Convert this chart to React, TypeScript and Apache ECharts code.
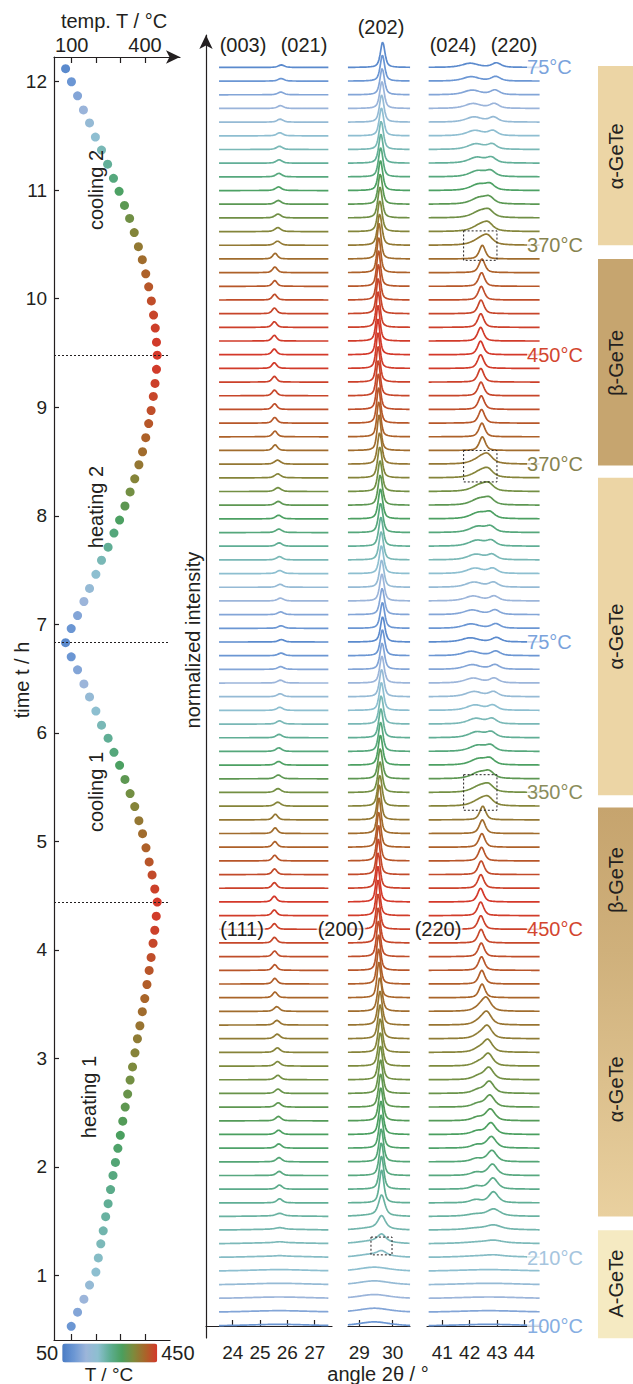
import React, { useEffect, useRef } from 'react';
import * as echarts from 'echarts';

const FONT = '"Liberation Sans", Arial, Helvetica, sans-serif';
const INK = '#231f20';

// ---- scans, chronological (k = 0 is the bottom trace) ----
const SCAN_TIME_H = [
  0.53, 0.66, 0.78, 0.91, 1.03, 1.16, 1.29, 1.41, 1.54, 1.66,
  1.79, 1.92, 2.04, 2.17, 2.29, 2.42, 2.55, 2.67, 2.8, 2.92,
  3.05, 3.18, 3.3, 3.43, 3.55, 3.68, 3.81, 3.93, 4.06, 4.18,
  4.31, 4.44, 4.56, 4.69, 4.81, 4.94, 5.07, 5.19, 5.32, 5.44,
  5.57, 5.7, 5.82, 5.95, 6.07, 6.2, 6.33, 6.45, 6.58, 6.7,
  6.83, 6.96, 7.08, 7.21, 7.33, 7.46, 7.59, 7.71, 7.84, 7.96,
  8.09, 8.22, 8.34, 8.47, 8.59, 8.72, 8.85, 8.97, 9.1, 9.22,
  9.35, 9.48, 9.6, 9.73, 9.85, 9.98, 10.11, 10.23, 10.36, 10.48,
  10.61, 10.74, 10.86, 10.99, 11.11, 11.24, 11.37, 11.49, 11.62, 11.74,
  11.87, 12.0, 12.12,
];
const SCAN_TEMP_C = [
  // heating 1 (k 0-31)
  98, 124, 150, 173, 199, 209, 219, 229, 239, 249, 259, 269, 279, 289, 299, 309,
  319, 329, 339, 349, 359, 369, 379, 389, 399, 408, 417, 425, 433, 440, 446, 450,
  // cooling 1 (k 32-50)
  440, 429, 417, 404, 390, 375, 358, 339, 318, 296, 273, 249, 222, 199, 173, 150,
  124, 98, 75,
  // heating 2 (k 51-71)
  98, 124, 150, 173, 199, 222, 249, 273, 296, 318, 339, 358, 375, 390, 403,
  415, 425, 434, 441, 447, 450,
  // cooling 2 (k 72-92)
  447, 442, 435, 426, 415, 403, 389, 373, 356, 337, 316, 294, 271, 247, 222,
  197, 173, 148, 124, 99, 75,
];
// phase of each scan: A amorphous, c crystallising, h alpha (first heating), b beta, a alpha (cycled)
const PHASE_RUNS: [string, number][] = [['A', 5], ['c', 4], ['h', 15], ['b', 14], ['a', 26], ['b', 15], ['a', 14]];
const CRYST_LEVEL = [0.12, 0.22, 0.38, 0.62];
const TURN_TIMES_H = [4.44, 6.83, 9.48];

// ---- peaks: [centre lowT, centre highT, height lowT, height highT, half width] ----
type PeakDef = [number, number, number, number, number];
const ALPHA_T = [75, 375];
const ALPHA_PEAKS: Record<string, PeakDef[]> = {
  s1: [[25.78, 25.64, 0.18, 0.3, 0.13]],
  s2: [[29.7, 29.61, 1.85, 2.3, 0.08]],
  s3: [[42.02, 42.45, 0.3, 0.52, 0.36], [42.98, 42.66, 0.32, 0.4, 0.2]],
};
const BETA_T = [375, 450];
const BETA_PEAKS: Record<string, PeakDef[]> = {
  s1: [[25.56, 25.52, 0.42, 0.42, 0.1]],
  s2: [[29.6, 29.56, 2.6, 2.6, 0.07]],
  s3: [[42.48, 42.4, 1.0, 1.0, 0.13]],
};
const HEAT1_T = [245, 405];
const HEAT1_PEAKS: Record<string, PeakDef[]> = {
  s1: [[25.72, 25.6, 0.3, 0.35, 0.12]],
  s2: [[29.67, 29.61, 2.4, 2.5, 0.08]],
  s3: [[42.22, 42.4, 0.22, 0.3, 0.25], [42.88, 42.58, 0.8, 0.9, 0.2]],
};
const AMORPH_PEAKS: Record<string, PeakDef[]> = {
  s1: [[25.7, 25.7, 0.12, 0.12, 1.4]],
  s2: [[29.45, 29.45, 0.3, 0.3, 0.55]],
  s3: [[42.7, 42.7, 0.12, 0.12, 1.4]],
};
const PV_ETA = 0.6;

// ---- axes ----
const TEMP_TICKS = [100, 200, 300, 400];
const TEMP_TICK_LABELS = [100, 400];
const TIME_TICKS = [1, 2, 3, 4, 5, 6, 7, 8, 9, 10, 11, 12];
const SEG1_TICKS = [24, 25, 26, 27];
const SEG2_TICKS = [29, 30];
const SEG3_TICKS = [41, 42, 43, 44];

const CMAP_COLORS = ['#4a7cc5', '#6c97d4', '#9cb5da', '#8dbfd0', '#5fae94', '#4a9f5e', '#7e8a3c', '#aa6429', '#d4382a'];

const SEGMENTS = [
  { key: 's1', from: 23.5, to: 27.5, step: 0.04, axis: 2 },
  { key: 's2', from: 28.66, to: 30.52, step: 0.015, axis: 3 },
  { key: 's3', from: 40.5, to: 44.56, step: 0.03, axis: 4 },
];

const DASH_BOXES = [
  { axis: 4, x0: 41.78, x1: 43.0, y0: 77.9, y1: 80.05 },
  { axis: 4, x0: 41.78, x1: 43.0, y0: 61.7, y1: 64.0 },
  { axis: 4, x0: 41.78, x1: 43.0, y0: 37.7, y1: 40.3 },
  { axis: 3, x0: 29.35, x1: 29.98, y0: 5.2, y1: 6.5 },
];

const TEMP_LABELS = [
  { k: 92, text: '75°C', color: '#7aa3dc' },
  { k: 79, text: '370°C', color: '#87834f' },
  { k: 71, text: '450°C', color: '#d3462f' },
  { k: 63, text: '370°C', color: '#87834f' },
  { k: 50, text: '75°C', color: '#7aa3dc' },
  { k: 39, text: '350°C', color: '#8b8d5c' },
  { k: 29, text: '450°C', color: '#d3462f' },
  { k: 5, text: '210°C', color: '#a6c5de' },
  { k: 0, text: '100°C', color: '#86aee2' },
];

const PHASE_BANDS = [
  { from: 79.0, to: 92.1, kind: 'alpha' },
  { from: 62.9, to: 78.0, kind: 'beta' },
  { from: 38.8, to: 62.0, kind: 'alpha' },
  { from: 8.0, to: 37.9, kind: 'grad' },
  { from: -0.9, to: 7.0, kind: 'amorph' },
];
const BAND_LABELS: [number, string][] = [
  [85.5, 'α-GeTe'], [70.4, 'β-GeTe'], [50.4, 'α-GeTe'], [32.6, 'β-GeTe'], [17.3, 'α-GeTe'], [3.1, 'A-GeTe'],
];
const BAND_COLORS: Record<string, string> = { alpha: '#ecd5a5', beta: '#c6a56f', amorph: '#f5eac2' };

const YMIN = -0.877;
const YMAX = 94.37;

// ---- helpers ----
const SCAN_PHASE: string[] = PHASE_RUNS.flatMap(([p, n]) => Array(n).fill(p));
const FIRST_CRYST = SCAN_PHASE.indexOf('c');

function hexToRgb(h: string) {
  const n = parseInt(h.slice(1), 16);
  return [(n >> 16) & 255, (n >> 8) & 255, n & 255];
}
function tempColor(T: number) {
  const t = Math.max(0, Math.min(1, (T - 50) / 400)) * (CMAP_COLORS.length - 1);
  const i = Math.min(Math.floor(t), CMAP_COLORS.length - 2);
  const f = t - i;
  const a = hexToRgb(CMAP_COLORS[i]);
  const b = hexToRgb(CMAP_COLORS[i + 1]);
  const c = a.map((v, j) => Math.round(v + (b[j] - v) * f));
  return `rgb(${c[0]},${c[1]},${c[2]})`;
}
function clamp01(v: number) {
  return Math.max(0, Math.min(1, v));
}
function evalSet(defs: PeakDef[], range: number[], T: number) {
  const f = clamp01((T - range[0]) / (range[1] - range[0]));
  return defs.map((d) => [d[0] + (d[1] - d[0]) * f, d[2] + (d[3] - d[2]) * f, d[4]]);
}
function peaksFor(k: number, seg: string): number[][] {
  const ph = SCAN_PHASE[k];
  const T = SCAN_TEMP_C[k];
  if (ph === 'a') return evalSet(ALPHA_PEAKS[seg], ALPHA_T, T);
  if (ph === 'b') return evalSet(BETA_PEAKS[seg], BETA_T, T);
  if (ph === 'h') return evalSet(HEAT1_PEAKS[seg], HEAT1_T, T);
  if (ph === 'A') return evalSet(AMORPH_PEAKS[seg], [0, 1], 0);
  const lv = CRYST_LEVEL[k - FIRST_CRYST];
  return [
    ...evalSet(AMORPH_PEAKS[seg], [0, 1], 0).map((p) => [p[0], p[1] * (1 - lv), p[2]]),
    ...evalSet(HEAT1_PEAKS[seg], HEAT1_T, 245).map((p) => [p[0], p[1] * lv, p[2] * (2 - lv)]),
  ];
}
function profile(x: number, c: number, h: number, w: number) {
  const u = (x - c) / w;
  return h * (PV_ETA / (1 + u * u) + (1 - PV_ETA) * Math.exp(-0.6931 * u * u));
}

function boxSeries(axis: number) {
  return {
    type: 'custom',
    xAxisIndex: axis,
    yAxisIndex: axis,
    silent: true,
    z: 6,
    data: DASH_BOXES.filter((b) => b.axis === axis).map((b) => [b.x0, b.x1, b.y0, b.y1]),
    renderItem: (params: any, api: any) => {
      const a = api.coord([api.value(0), api.value(3)]);
      const b = api.coord([api.value(1), api.value(2)]);
      return {
        type: 'polygon',
        shape: { points: [[a[0], a[1]], [b[0], a[1]], [b[0], b[1]], [a[0], b[1]]] },
        style: { fill: 'none', stroke: INK, lineWidth: 1, lineDash: [2, 2] },
      };
    },
  };
}

function buildOption() {
  const series: any[] = [];

  series.push({
    type: 'scatter',
    xAxisIndex: 0,
    yAxisIndex: 0,
    symbolSize: 9,
    silent: true,
    z: 4,
    itemStyle: { opacity: 1 },
    data: SCAN_TEMP_C.map((T, k) => [T, SCAN_TIME_H[k]]),
    markLine: {
      silent: true,
      symbol: 'none',
      label: { show: false },
      lineStyle: { color: INK, width: 1, type: [2, 2] },
      data: TURN_TIMES_H.map((t) => ({ yAxis: t })),
    },
  });

  series.push({
    type: 'custom',
    xAxisIndex: 5,
    yAxisIndex: 5,
    silent: true,
    data: PHASE_BANDS.map((b) => [b.from, b.to]),
    renderItem: (params: any, api: any) => {
      const b = PHASE_BANDS[params.dataIndex];
      const pTop = api.coord([0, api.value(1)]);
      const pBot = api.coord([0, api.value(0)]);
      const cs = params.coordSys;
      const fill =
        b.kind === 'grad'
          ? new echarts.graphic.LinearGradient(0, 0, 0, 1, [
              { offset: 0, color: '#c6a46e' },
              { offset: 0.35, color: '#cfb07b' },
              { offset: 1, color: '#e9d09f' },
            ])
          : BAND_COLORS[b.kind];
      return {
        type: 'rect',
        shape: { x: cs.x, y: pTop[1], width: cs.width, height: pBot[1] - pTop[1] },
        style: { fill },
      };
    },
  });

  series.push({
    type: 'custom',
    xAxisIndex: 5,
    yAxisIndex: 5,
    silent: true,
    z: 3,
    data: BAND_LABELS.map((b) => [0.5, b[0]]),
    renderItem: (params: any, api: any) => {
      const p = api.coord([api.value(0), api.value(1)]);
      return {
        type: 'text',
        x: p[0],
        y: p[1],
        rotation: Math.PI / 2,
        style: {
          text: BAND_LABELS[params.dataIndex][1],
          fill: INK,
          fontSize: 20,
          fontFamily: FONT,
          align: 'center',
          verticalAlign: 'middle',
        },
      };
    },
  });

  for (let k = SCAN_TEMP_C.length - 1; k >= 0; k--) {
    const color = tempColor(SCAN_TEMP_C[k]);
    for (const seg of SEGMENTS) {
      const peaks = peaksFor(k, seg.key);
      const data: number[][] = [];
      const n = Math.round((seg.to - seg.from) / seg.step);
      for (let i = 0; i <= n; i++) {
        const x = seg.from + ((seg.to - seg.from) * i) / n;
        let y = k;
        for (const p of peaks) y += profile(x, p[0], p[1], p[2]);
        data.push([x, y]);
      }
      series.push({
        type: 'line',
        xAxisIndex: seg.axis,
        yAxisIndex: seg.axis,
        data,
        symbol: 'none',
        showSymbol: false,
        silent: true,
        lineStyle: { color, width: 1.7 },
        z: 2,
      });
    }
  }

  series.push(boxSeries(4));
  series.push(boxSeries(3));

  series.push({
    type: 'scatter',
    xAxisIndex: 4,
    yAxisIndex: 4,
    symbolSize: 0,
    clip: false,
    silent: true,
    z: 10,
    itemStyle: { opacity: 1 },
    data: TEMP_LABELS.map((l) => ({ name: l.text, value: [44.1, l.k], label: { color: l.color } })),
    label: {
      show: true,
      position: 'right',
      distance: 0,
      formatter: '{b}',
      fontSize: 20,
      fontFamily: FONT,
      backgroundColor: 'rgba(255,255,255,0.72)',
      padding: [0, 1, 0, 0],
    },
  });

  const axisLine = { lineStyle: { color: INK, width: 1.2 } };
  const tickStyle = { color: INK, width: 1.2 };
  const hiddenY = (gridIndex: number, min: number, max: number) => ({
    gridIndex, type: 'value', min, max, show: false, splitLine: { show: false },
  });
  const segX = (gridIndex: number, min: number, max: number, ticks: number[]) => ({
    gridIndex,
    type: 'value',
    min,
    max,
    position: 'bottom',
    axisLine,
    axisTick: { inside: true, length: 6, customValues: ticks, lineStyle: tickStyle },
    axisLabel: { customValues: ticks, fontSize: 19, color: INK, margin: 5, fontFamily: FONT },
    splitLine: { show: false },
  });

  const txt = (text: string, x: number, y: number, size: number, rot = 0, extra: any = {}) => ({
    type: 'text',
    x,
    y,
    rotation: rot,
    z: 100,
    style: {
      text,
      fill: INK,
      fontSize: size,
      fontFamily: FONT,
      align: 'center',
      verticalAlign: 'middle',
      ...extra,
    },
  });
  const halo = { backgroundColor: 'rgba(255,255,255,0.72)', padding: [0, 1] };

  return {
    animation: false,
    backgroundColor: '#ffffff',
    textStyle: { fontFamily: FONT },
    grid: [
      { left: 54, top: 57, width: 116, height: 1283 },
      { left: 54, top: 57, width: 126, height: 1283 },
      { left: 206, top: 35, width: 126, height: 1303 },
      { left: 348, top: 35, width: 62, height: 1303 },
      { left: 427, top: 35, width: 115, height: 1303 },
      { left: 598, top: 35, width: 35, height: 1303 },
    ],
    xAxis: [
      {
        gridIndex: 0, type: 'value', min: 27.56, max: 502.3, position: 'bottom', axisLine,
        axisTick: { inside: true, length: 6, customValues: TEMP_TICKS, lineStyle: tickStyle },
        axisLabel: { show: false }, splitLine: { show: false },
      },
      {
        gridIndex: 1, type: 'value', min: 27.56, max: 543.2, position: 'top',
        axisLine: { ...axisLine, symbol: ['none', 'arrow'], symbolSize: [10, 14] },
        axisTick: { inside: true, length: 6, customValues: TEMP_TICKS, lineStyle: tickStyle },
        axisLabel: { customValues: TEMP_TICK_LABELS, fontSize: 20, color: INK, margin: 2, fontFamily: FONT },
        splitLine: { show: false },
      },
      segX(2, 23.023, 27.633, SEG1_TICKS),
      segX(3, 28.662, 30.518, SEG2_TICKS),
      segX(4, 40.44, 44.648, SEG3_TICKS),
      { gridIndex: 5, type: 'value', min: 0, max: 1, show: false, splitLine: { show: false } },
    ],
    yAxis: [
      {
        gridIndex: 0, type: 'value', min: 0.4037, max: 12.228, axisLine: { show: true, ...axisLine },
        axisTick: { show: true, inside: true, length: 5, customValues: TIME_TICKS, lineStyle: tickStyle },
        axisLabel: { customValues: TIME_TICKS, fontSize: 19, color: INK, margin: 7, fontFamily: FONT },
        splitLine: { show: false },
      },
      hiddenY(1, 0.4037, 12.228),
      {
        gridIndex: 2, type: 'value', min: YMIN, max: YMAX,
        axisLine: { show: true, ...axisLine, symbol: ['none', 'arrow'], symbolSize: [10, 14] },
        axisTick: { show: false }, axisLabel: { show: false }, splitLine: { show: false },
      },
      hiddenY(3, YMIN, YMAX),
      hiddenY(4, YMIN, YMAX),
      hiddenY(5, YMIN, YMAX),
    ],
    visualMap: {
      type: 'continuous',
      seriesIndex: 0,
      dimension: 0,
      min: 50,
      max: 450,
      orient: 'horizontal',
      left: 36,
      top: 1343,
      itemWidth: 19,
      itemHeight: 95,
      text: ['450', '50'],
      textGap: 4,
      calculable: false,
      hoverLink: false,
      padding: 0,
      inRange: { color: CMAP_COLORS },
      textStyle: { fontSize: 20, color: INK, fontFamily: FONT },
    },
    graphic: [
      txt('temp. T / °C', 114, 21, 20),
      txt('time t / h', 22, 680, 20, Math.PI / 2),
      txt('cooling 2', 96, 190, 20, Math.PI / 2),
      txt('heating 2', 96, 507, 20, Math.PI / 2),
      txt('cooling 1', 96, 792, 20, Math.PI / 2),
      txt('heating 1', 89, 1097, 20, Math.PI / 2),
      txt('T / °C', 109, 1374, 19),
      txt('normalized intensity', 193, 640, 20, Math.PI / 2),
      txt('angle 2θ / °', 378, 1374, 20),
      txt('(003)', 243, 45, 20),
      txt('(021)', 304, 45, 20),
      txt('(202)', 381, 27, 20),
      txt('(024)', 453, 45, 20),
      txt('(220)', 514, 45, 20),
      txt('(111)', 242, 929, 20, 0, halo),
      txt('(200)', 341, 929, 20, 0, halo),
      txt('(220)', 438, 929, 20, 0, halo),
    ],
    series,
  };
}

export default function App() {
  const ref = useRef<HTMLDivElement>(null);
  useEffect(() => {
    if (!ref.current) return;
    const chart = echarts.init(ref.current, null, { renderer: 'svg' });
    chart.setOption(buildOption() as any);
    return () => chart.dispose();
  }, []);
  return (
    <div
      ref={ref}
      style={{ position: 'fixed', left: 0, top: 0, width: 633, height: 1384, background: '#fff' }}
    />
  );
}
